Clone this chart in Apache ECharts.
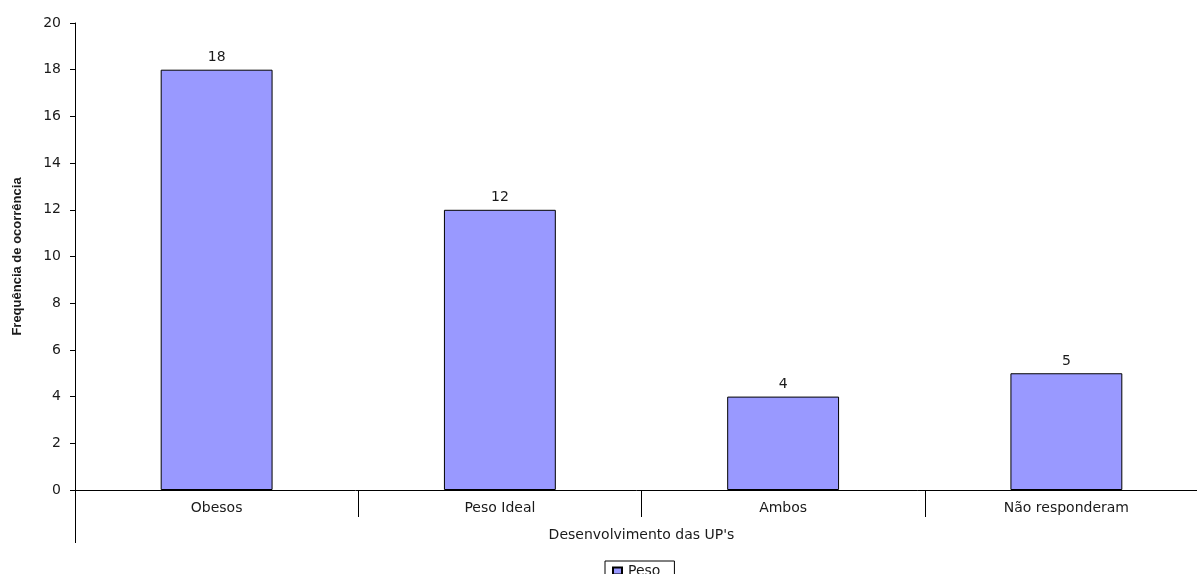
<!DOCTYPE html>
<html>
<head>
<meta charset="utf-8">
<script src="https://cdn.jsdelivr.net/npm/echarts@6/dist/echarts.min.js"></script>
<style>
  html, body { margin: 0; padding: 0; background: #ffffff; }
  #chart { width: 1197px; height: 574px; }
</style>
</head>
<body>
<div id="chart"></div>
<script>
const categories = ['Obesos', 'Peso Ideal', 'Ambos', 'Não responderam'];
const pesoValues = [18, 12, 4, 5];
const seriesName = 'Peso';

const chart = echarts.init(document.getElementById('chart'), null, { renderer: 'canvas' });
const txt = '#1a1a1a';
const font = 'DejaVu Sans, Verdana, sans-serif';

chart.setOption({
  animation: false,
  backgroundColor: '#ffffff',
  grid: { left: 75, top: 23, bottom: 84, right: -11, outerBoundsMode: 'none' },
  legend: {
    data: [{ name: seriesName, icon: 'rect' }],
    bottom: -7,
    left: 605,
    itemWidth: 9,
    itemHeight: 7,
    itemGap: 4,
    padding: [3, 14, 3, 7],
    borderColor: '#000',
    borderWidth: 1,
    textStyle: { fontFamily: font, fontSize: 14, color: txt, padding: [0, 0, 0, 1] }
  },
  xAxis: {
    type: 'category',
    data: categories,
    name: "Desenvolvimento das UP's",
    nameLocation: 'middle',
    nameGap: 38,
    nameTextStyle: { fontFamily: font, fontSize: 14, color: txt },
    axisLine: { lineStyle: { color: '#000', width: 1 } },
    axisTick: { show: true, interval: 0, length: 27, lineStyle: { color: '#000' } },
    axisLabel: { fontFamily: font, fontSize: 14, color: txt, margin: 11, interval: 0 }
  },
  yAxis: {
    type: 'value',
    min: 0,
    max: 20,
    interval: 2,
    name: 'Frequência de ocorrência',
    nameLocation: 'middle',
    nameGap: 51,
    nameTextStyle: { fontFamily: 'Liberation Sans Narrow, Arial Narrow, Liberation Sans, sans-serif', fontWeight: 'bold', fontSize: 13, color: txt },
    axisLine: { show: true, lineStyle: { color: '#000', width: 1 } },
    axisTick: { show: true, length: 5, lineStyle: { color: '#000' } },
    axisLabel: { fontFamily: font, fontSize: 14, color: txt, margin: 14 },
    splitLine: { show: false }
  },
  series: [{
    name: seriesName,
    type: 'bar',
    data: pesoValues,
    barWidth: '39.5%',
    itemStyle: { color: '#9999ff', borderColor: '#000', borderWidth: 1 },
    label: { show: true, position: 'top', distance: 5, fontFamily: font, fontSize: 14, color: txt }
  }]
});

// extend the y axis line below zero, like the original
const p0 = chart.convertToPixel({ gridIndex: 0 }, [0, 0]);
const x0 = 75;
chart.setOption({
  graphic: [{
    type: 'line',
    shape: { x1: x0 + 0.5, y1: Math.round(p0[1]), x2: x0 + 0.5, y2: 543 },
    style: { stroke: '#000', lineWidth: 1 }
  }]
});
</script>
</body>
</html>
